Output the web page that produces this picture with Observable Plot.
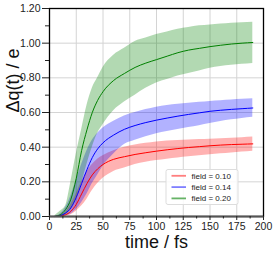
<!DOCTYPE html>
<html><head><meta charset="utf-8">
<script src="https://cdn.jsdelivr.net/npm/d3@7"></script>
<script src="https://cdn.jsdelivr.net/npm/@observablehq/plot@0.6"></script>
<style>body{margin:0;background:#fff}</style>
</head><body><div id="chart"></div>
<script>
const time = [5,10,15,20,25,30,35,40,45,50,60,70,80,90,100,110,120,130,140,150,160,170,180,190];
const series = ["field = 0.10","field = 0.14","field = 0.20"];
const colors = ["#ff0000","#0000ff","#008000"];
const legendColors = ["#ff7f7f","#7f7fff","#66b366"];
const redMean = [0,0.003,0.01,0.03,0.07,0.13,0.19,0.24,0.275,0.30,0.33,0.345,0.358,0.368,0.377,0.385,0.392,0.398,0.403,0.408,0.412,0.415,0.417,0.419];
const redLo   = [0,0,0.003,0.01,0.03,0.06,0.10,0.15,0.19,0.22,0.26,0.28,0.30,0.313,0.323,0.331,0.338,0.344,0.35,0.356,0.362,0.367,0.372,0.377];
const redHi   = [0,0.008,0.025,0.07,0.13,0.20,0.26,0.30,0.33,0.35,0.38,0.40,0.413,0.422,0.43,0.435,0.439,0.442,0.444,0.446,0.449,0.452,0.455,0.458];
const blueMean = [0,0.005,0.02,0.05,0.11,0.19,0.27,0.34,0.39,0.425,0.47,0.503,0.525,0.542,0.556,0.568,0.579,0.589,0.598,0.607,0.613,0.618,0.622,0.626];
const blueLo   = [0,0,0.005,0.015,0.04,0.08,0.13,0.19,0.24,0.29,0.36,0.415,0.44,0.46,0.478,0.49,0.502,0.513,0.524,0.536,0.548,0.558,0.566,0.573];
const blueHi   = [0.002,0.015,0.05,0.12,0.21,0.30,0.38,0.44,0.48,0.51,0.55,0.58,0.60,0.617,0.631,0.64,0.647,0.653,0.659,0.664,0.668,0.672,0.676,0.679];
const greenMean = [0,0.01,0.04,0.10,0.22,0.38,0.50,0.60,0.67,0.72,0.785,0.825,0.86,0.885,0.905,0.925,0.945,0.96,0.97,0.98,0.988,0.995,1.0,1.004];
const greenLo   = [0,0,0.01,0.04,0.10,0.19,0.30,0.40,0.48,0.53,0.61,0.66,0.70,0.74,0.77,0.79,0.81,0.825,0.84,0.855,0.865,0.872,0.878,0.883];
const greenHi   = [0.005,0.03,0.06,0.20,0.36,0.50,0.64,0.74,0.80,0.86,0.93,0.97,1.01,1.03,1.05,1.065,1.08,1.09,1.10,1.105,1.11,1.115,1.118,1.12];
const xTicks = [0,25,50,75,100,125,150,175,200];
const yTicks = [0,0.2,0.4,0.6,0.8,1.0,1.2];

const means = [redMean, blueMean, greenMean];
const los = [redLo, blueLo, greenLo];
const his = [redHi, blueHi, greenHi];
const rows = [];
series.forEach((s, k) => time.forEach((t, i) => rows.push({series: s, t, m: means[k][i], lo: los[k][i], hi: his[k][i]})));

const font = "'Liberation Sans', Arial, sans-serif";
const chart = Plot.plot({
  width: 274, height: 254,
  marginLeft: 49, marginRight: 11, marginTop: 8, marginBottom: 38,
  style: {fontFamily: font, fontSize: "10.5px", color: "#222", background: "#fff"},
  x: {domain: [0, 200]},
  y: {domain: [0, 1.2]},
  color: {domain: series, range: colors},
  marks: [
    Plot.gridX(xTicks.slice(1, -1), {stroke: "#d4d4d4", strokeOpacity: 1, strokeWidth: 1}),
    Plot.gridY(yTicks.slice(1, -1), {stroke: "#d4d4d4", strokeOpacity: 1, strokeWidth: 1}),
    Plot.areaY(rows, {x: "t", y1: "lo", y2: "hi", z: "series", fill: "series", fillOpacity: 0.3, curve: "monotone-x"}),
    Plot.lineY(rows, {x: "t", y: "m", z: "series", stroke: "series", strokeWidth: 1, curve: "monotone-x"}),
    Plot.frame({stroke: "#000", strokeWidth: 1.3}),
    Plot.ruleY([0], {stroke: "#555", strokeWidth: 2}),
    Plot.axisX({ticks: xTicks, tickSize: 4, tickPadding: 2, tickFormat: d => d, label: null, stroke: "#222"}),
    Plot.axisX({ticks: d3.range(12.5, 200, 25), tickSize: 2.5, tickFormat: () => "", label: null}),
    Plot.axisY({ticks: yTicks, tickSize: 7, tickPadding: 2, tickFormat: d3.format(".2f"), label: null}),
    Plot.axisY({ticks: d3.range(0.1, 1.2, 0.2), tickSize: 4, tickFormat: () => "", label: null}),
    Plot.text(["time / fs"], {frameAnchor: "bottom", lineAnchor: "middle", dy: 26, fontSize: 18, fill: "#111"}),
    Plot.text(["Δq(t) / e"], {frameAnchor: "left", lineAnchor: "middle", dx: -36, rotate: -90, fontSize: 18, fill: "#111"})
  ]
});
document.getElementById("chart").appendChild(chart);

// legend box
const svg = d3.select(chart);
const lg = svg.append("g").attr("font-family", font).attr("font-size", 8).attr("text-anchor", "start");
lg.append("rect").attr("x", 166).attr("y", 169.5).attr("width", 72).attr("height", 35)
  .attr("rx", 2).attr("fill", "#fff").attr("fill-opacity", 0.85).attr("stroke", "#ddd");
series.forEach((s, k) => {
  const y = 175.8 + k * 11.3;
  lg.append("line").attr("x1", 171.5).attr("x2", 186).attr("y1", y).attr("y2", y)
    .attr("stroke", legendColors[k]).attr("stroke-width", 1.8);
  lg.append("text").attr("x", 191.5).attr("y", y).attr("dy", "0.35em").attr("fill", "#222").text(s);
});
</script></body></html>
